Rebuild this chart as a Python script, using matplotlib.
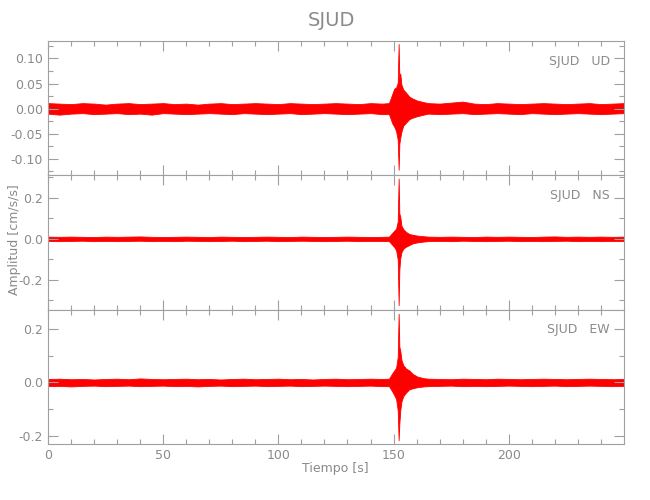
import numpy as np
import matplotlib
matplotlib.use('Agg')
import matplotlib.pyplot as plt
from matplotlib.ticker import MultipleLocator, FormatStrFormatter

# station / components
station = 'SJUD'
components = ['UD', 'NS', 'EW']

# envelope sample times [s] (background, event, coda)
t_env = [0, 5, 10, 15, 20, 25, 30, 35, 40, 45, 50, 55, 60, 65, 70, 75, 80, 85, 90, 95,
         100, 105, 110, 115, 120, 125, 130, 135, 140, 145,
         148, 149.5, 150.3, 151.1, 151.8, 152.2, 152.5, 152.9, 153.4, 154.2, 155.4, 156.8, 158.3, 160.3, 163,
         165, 170, 175, 180, 185, 190, 195, 200, 205, 210, 215, 220, 225, 230, 235, 240, 245, 250]

# upper / lower envelope of each trace [cm/s/s]
ud_up = [0.011, 0.010, 0.009, 0.011, 0.010, 0.008, 0.010, 0.011, 0.009, 0.010,
         0.011, 0.009, 0.010, 0.008, 0.010, 0.011, 0.009, 0.010, 0.011, 0.010,
         0.009, 0.011, 0.010, 0.009, 0.010, 0.011, 0.010, 0.009, 0.011, 0.010,
         0.011, 0.030, 0.040, 0.042, 0.052, 0.129, 0.060, 0.070, 0.048, 0.038, 0.032, 0.024, 0.020, 0.016, 0.013,
         0.011, 0.010, 0.012, 0.014, 0.010, 0.009, 0.011, 0.010, 0.009, 0.010, 0.011, 0.010, 0.009, 0.010, 0.011, 0.009, 0.010, 0.011]
ud_lo = [-0.010, -0.012, -0.010, -0.009, -0.011, -0.010, -0.009, -0.011, -0.010, -0.012,
         -0.009, -0.010, -0.011, -0.010, -0.009, -0.010, -0.011, -0.009, -0.010, -0.011,
         -0.010, -0.009, -0.011, -0.010, -0.009, -0.010, -0.011, -0.010, -0.009, -0.011,
         -0.011, -0.030, -0.036, -0.045, -0.062, -0.122, -0.070, -0.058, -0.046, -0.034, -0.028, -0.021, -0.018, -0.015, -0.012,
         -0.010, -0.011, -0.010, -0.009, -0.011, -0.010, -0.009, -0.010, -0.011, -0.009, -0.010, -0.011, -0.010, -0.009, -0.010, -0.011, -0.010, -0.009]

ns_up = [0.011, 0.010, 0.011, 0.010, 0.009, 0.011, 0.010, 0.011, 0.012, 0.010,
         0.009, 0.010, 0.011, 0.010, 0.009, 0.011, 0.010, 0.009, 0.010, 0.011,
         0.010, 0.009, 0.011, 0.010, 0.009, 0.010, 0.011, 0.010, 0.009, 0.010,
         0.011, 0.030, 0.040, 0.050, 0.085, 0.294, 0.123, 0.110, 0.065, 0.048, 0.034, 0.024, 0.020, 0.016, 0.013,
         0.011, 0.010, 0.011, 0.010, 0.009, 0.011, 0.010, 0.011, 0.010, 0.009, 0.011, 0.012, 0.010, 0.011, 0.010, 0.011, 0.010, 0.011]
ns_lo = [-0.010, -0.011, -0.010, -0.009, -0.011, -0.010, -0.011, -0.010, -0.009, -0.011,
         -0.010, -0.011, -0.009, -0.010, -0.011, -0.010, -0.009, -0.011, -0.010, -0.009,
         -0.011, -0.010, -0.009, -0.010, -0.011, -0.010, -0.009, -0.011, -0.010, -0.010,
         -0.011, -0.030, -0.040, -0.055, -0.100, -0.323, -0.150, -0.095, -0.065, -0.048, -0.038, -0.030, -0.022, -0.017, -0.013,
         -0.011, -0.010, -0.011, -0.009, -0.010, -0.011, -0.010, -0.009, -0.011, -0.010, -0.011, -0.010, -0.009, -0.011, -0.010, -0.011, -0.010, -0.010]

ew_up = [0.013, 0.014, 0.012, 0.013, 0.011, 0.013, 0.014, 0.012, 0.015, 0.013,
         0.012, 0.013, 0.014, 0.012, 0.013, 0.011, 0.013, 0.014, 0.012, 0.013,
         0.014, 0.012, 0.013, 0.011, 0.013, 0.014, 0.012, 0.013, 0.014, 0.013,
         0.014, 0.035, 0.045, 0.055, 0.095, 0.258, 0.134, 0.120, 0.085, 0.065, 0.052, 0.045, 0.032, 0.022, 0.016,
         0.014, 0.013, 0.012, 0.014, 0.013, 0.012, 0.014, 0.013, 0.012, 0.013, 0.014, 0.013, 0.012, 0.013, 0.014, 0.013, 0.012, 0.013]
ew_lo = [-0.014, -0.013, -0.015, -0.013, -0.012, -0.014, -0.013, -0.012, -0.014, -0.013,
         -0.012, -0.014, -0.013, -0.015, -0.013, -0.012, -0.014, -0.013, -0.012, -0.014,
         -0.013, -0.012, -0.014, -0.013, -0.012, -0.013, -0.014, -0.013, -0.012, -0.014,
         -0.014, -0.035, -0.048, -0.062, -0.105, -0.217, -0.155, -0.105, -0.072, -0.052, -0.038, -0.026, -0.022, -0.018, -0.015,
         -0.014, -0.013, -0.012, -0.014, -0.013, -0.014, -0.013, -0.012, -0.013, -0.014, -0.013, -0.012, -0.014, -0.013, -0.012, -0.013, -0.014, -0.013]

traces = [(ud_up, ud_lo), (ns_up, ns_lo), (ew_up, ew_lo)]
ylims = [(-0.133, 0.135), (-0.345, 0.31), (-0.231, 0.273)]
ymajor = [0.05, 0.2, 0.2]
yminor = [0.025, 0.1, 0.1]
yfmt = ['%.2f', '%.1f', '%.1f']

gray = '#8a8a8a'
plt.rcParams['font.family'] = ['Liberation Sans Narrow', 'DejaVu Sans']
plt.rcParams['axes.edgecolor'] = '#a0a0a0'

fig = plt.figure(figsize=(6.5, 5), dpi=100)
left, width = 48 / 650, 575.5 / 650
h = 0.2687
bottoms = [0.112 + 2 * h, 0.112 + h, 0.112]

axes = []
for i, comp in enumerate(components):
    ax = fig.add_axes([left, bottoms[i], width, h])
    up, lo = traces[i]
    ax.fill_between(t_env, lo, up, color='#ff0000', lw=0.6, edgecolor='#ff0000')
    ax.set_xlim(0, 249.8)
    ax.set_ylim(*ylims[i])
    ax.xaxis.set_major_locator(MultipleLocator(50))
    ax.xaxis.set_minor_locator(MultipleLocator(10))
    ax.yaxis.set_major_locator(MultipleLocator(ymajor[i]))
    ax.yaxis.set_minor_locator(MultipleLocator(yminor[i]))
    ax.yaxis.set_major_formatter(FormatStrFormatter(yfmt[i]))
    ax.tick_params(which='both', direction='in', top=True, right=True,
                   color='#a0a0a0', labelcolor=gray, labelsize=9, width=0.8)
    ax.tick_params(which='major', length=7)
    ax.tick_params(which='minor', length=3.5)
    if i < 2:
        ax.tick_params(labelbottom=False)
    ax.text(0.976, 0.85, station + '   ' + comp, transform=ax.transAxes,
            ha='right', va='center', color=gray, fontsize=9)
    axes.append(ax)

axes[-1].set_xlabel('Tiempo [s]', color=gray, fontsize=9, labelpad=0)
fig.text(0.51, 0.958, station, ha='center', va='center', color=gray, fontsize=14)
fig.text(0.022, 0.52, 'Amplitud [cm/s/s]', rotation=90, ha='center', va='center',
         color=gray, fontsize=9)

fig.savefig('out.png', dpi=100, facecolor='white')
